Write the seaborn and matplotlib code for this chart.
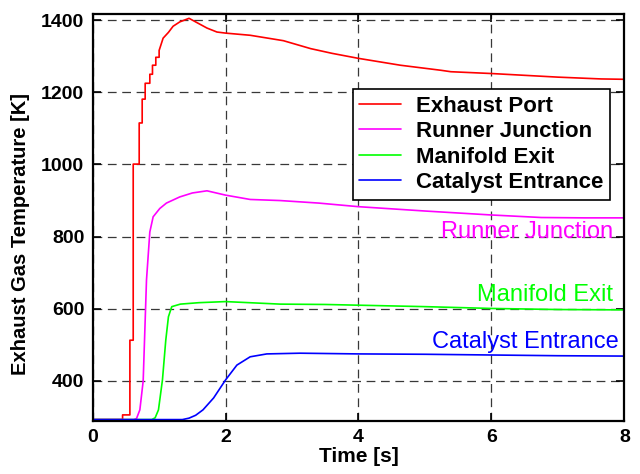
import matplotlib
matplotlib.use("Agg")
import matplotlib.pyplot as plt
import seaborn as sns
import pandas as pd

# ---------------- data ----------------
series_names = ["Exhaust Port", "Runner Junction", "Manifold Exit", "Catalyst Entrance"]
series_colors = ["#ff0000", "#ff00ff", "#00ff00", "#0000ff"]

port_t = [0, 0.45, 0.45, 0.56, 0.56, 0.61, 0.61, 0.70, 0.70, 0.745, 0.745, 0.79, 0.79,
          0.86, 0.86, 0.90, 0.90, 0.95, 0.95, 1.0, 1.0, 1.06, 1.14, 1.21, 1.31, 1.45,
          1.6, 1.72, 1.87, 2.0, 2.37, 2.87, 3.28, 3.6, 4.0, 4.63, 5.24, 5.39, 6.0,
          6.5, 7.0, 7.65, 8.0]
port_T = [293, 293, 306, 306, 513, 513, 1001, 1001, 1115, 1115, 1181, 1181, 1225,
          1225, 1250, 1250, 1275, 1275, 1297, 1297, 1316, 1350, 1366, 1383, 1395, 1405,
          1390, 1378, 1367, 1364, 1358, 1343, 1321, 1308, 1294, 1275, 1261, 1257, 1252,
          1247, 1242, 1237, 1236]

runner_t = [0, 0.62, 0.66, 0.71, 0.76, 0.81, 0.86, 0.91, 1.01, 1.11, 1.31, 1.5, 1.72,
            2.0, 2.37, 2.82, 3.4, 4.0, 5.0, 6.0, 6.75, 7.4, 8.0]
runner_T = [293, 293, 296, 320, 400, 680, 813, 855, 878, 893, 910, 921, 927,
            915, 903, 900, 893, 883, 871, 860, 853, 852, 852]

manifold_t = [0, 0.89, 0.94, 0.99, 1.05, 1.10, 1.14, 1.19, 1.32, 1.6, 2.0, 2.82,
              3.5, 4.0, 5.0, 6.0, 7.0, 8.0]
manifold_T = [293, 293, 298, 320, 403, 513, 578, 606, 613, 617, 620, 613,
              612, 610, 606, 601, 598, 597]

catalyst_t = [0, 1.35, 1.45, 1.55, 1.66, 1.82, 2.0, 2.17, 2.37, 2.62, 3.12, 4.0,
              5.0, 6.0, 7.0, 8.0]
catalyst_T = [293, 293, 297, 305, 320, 353, 403, 444, 467, 475, 477, 475,
              474, 472, 470, 469]

x_ticks = [0, 2, 4, 6, 8]
y_ticks = [400, 600, 800, 1000, 1200, 1400]

# ---------------- style ----------------
sns.set_style("ticks")
plt.rcParams["font.family"] = ["Liberation Sans", "DejaVu Sans"]
plt.rcParams.update({"text.color": "black", "axes.labelcolor": "black",
                     "xtick.color": "black", "ytick.color": "black"})

fig = plt.figure(figsize=(6.4, 4.74), dpi=100)
ax = fig.add_axes([0.1448, 0.1125, 0.8307, 0.858])

all_t = [port_t, runner_t, manifold_t, catalyst_t]
all_T = [port_T, runner_T, manifold_T, catalyst_T]
for name, color, t, T in zip(series_names, series_colors, all_t, all_T):
    df = pd.DataFrame({"t": t, "T": T})
    sns.lineplot(data=df, x="t", y="T", ax=ax, color=color, lw=1.2,
                 estimator=None, sort=False, label=name, zorder=3)

ax.set_xlim(0, 8)
ax.set_ylim(290, 1417)
ax.set_xticks(x_ticks)
ax.set_yticks(y_ticks)
ax.tick_params(direction="in", length=6, width=1.2, top=True, right=True,
               labelsize=14, pad=6, colors="black")
for lab in ax.get_xticklabels() + ax.get_yticklabels():
    lab.set_fontweight("bold")

ax.grid(True, color="#222222", linestyle=(0, (7, 4.5)), linewidth=0.9, alpha=0.9)
for sp in ax.spines.values():
    sp.set_linewidth(1.6)
    sp.set_color("black")
    sp.set_zorder(5)

ax.set_xlabel("Time [s]", fontsize=15, fontweight="bold", labelpad=1, color="black")
ax.set_ylabel("Exhaust Gas Temperature [K]", fontsize=14.5, fontweight="bold",
              color="black")
ax.yaxis.set_label_coords(-0.118, 0.46)

leg = ax.legend(loc="upper right", bbox_to_anchor=(0.973, 0.8156), borderaxespad=0,
                fancybox=False, frameon=True, framealpha=1, edgecolor="black",
                prop={"weight": "bold", "size": 16}, handlelength=1.9,
                handletextpad=0.65, labelspacing=0.2, borderpad=0.3)
leg.get_frame().set_linewidth(1.2)
leg.set_zorder(6)
for txt in leg.get_texts():
    txt.set_color("black")

# curve labels on the right
ax.text(7.83, 796, "Runner Junction", color="#ff00ff", fontsize=17,
        ha="right", va="baseline")
ax.text(7.83, 622, "Manifold Exit", color="#00ff00", fontsize=17,
        ha="right", va="baseline")
ax.text(7.92, 491, "Catalyst Entrance", color="#0000ff", fontsize=17,
        ha="right", va="baseline")

fig.savefig("out.png", dpi=100)
